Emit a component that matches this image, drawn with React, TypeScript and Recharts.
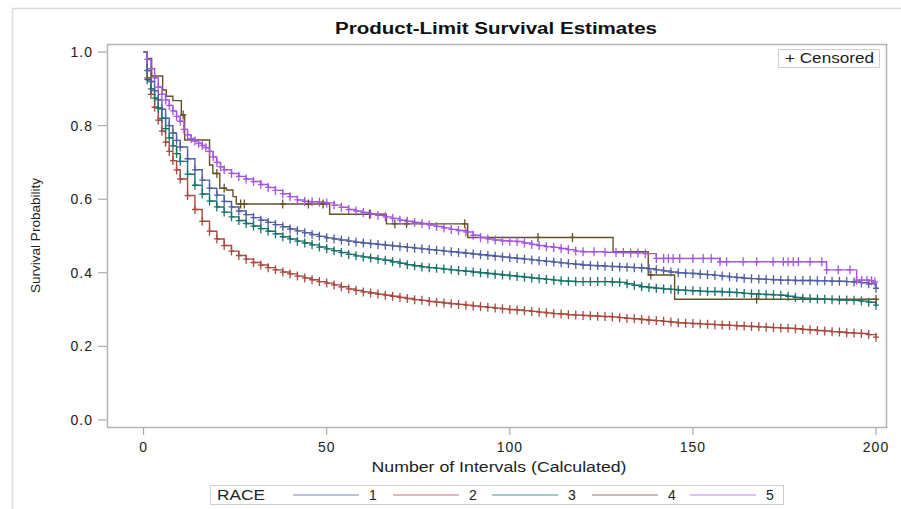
import { LineChart, Line, XAxis, YAxis } from 'recharts';

// time grid (intervals) shared by races 1-3
const intervals = [
  0, 1, 2, 3, 4, 5, 6, 7, 8, 9, 10,
  12, 14, 16, 18, 20, 22, 24, 26, 28, 30,
  32, 34, 36, 38, 40, 42, 44, 46, 48, 50,
  52, 54, 56, 58, 60, 62, 64, 66, 68, 70,
  72, 74, 76, 78, 80, 82, 84, 86, 88, 90,
  92, 94, 96, 98, 100, 102, 104, 106, 108, 110,
  112, 114, 116, 118, 120, 122, 124, 126, 128, 130,
  132, 134, 136, 138, 140, 142, 144, 146, 148, 150,
  152, 154, 156, 158, 160, 162, 164, 166, 168, 170,
  172, 174, 176, 178, 180, 182, 184, 186, 188, 190,
  192, 194, 196, 198, 200,
];

const race1 = [
  1.0, 0.95, 0.92, 0.895, 0.87, 0.845, 0.82, 0.8, 0.78, 0.76, 0.742,
  0.71, 0.68, 0.652, 0.63, 0.611, 0.594, 0.579, 0.568, 0.558, 0.55,
  0.543, 0.537, 0.531, 0.525, 0.519, 0.514, 0.509, 0.504, 0.499, 0.495,
  0.492, 0.489, 0.486, 0.483, 0.481, 0.479, 0.477, 0.475, 0.473, 0.471,
  0.469, 0.467, 0.465, 0.463, 0.461, 0.459, 0.457, 0.455, 0.453, 0.451,
  0.449, 0.447, 0.445, 0.443, 0.441, 0.439, 0.437, 0.435, 0.433, 0.431,
  0.429, 0.427, 0.425, 0.423, 0.421, 0.42, 0.419, 0.418, 0.417, 0.416,
  0.415, 0.414, 0.413, 0.411, 0.408, 0.405, 0.402, 0.4, 0.399, 0.398,
  0.396, 0.395, 0.393, 0.391, 0.389, 0.387, 0.385, 0.384, 0.383, 0.382,
  0.381, 0.38, 0.38, 0.379, 0.379, 0.379, 0.378, 0.378, 0.377, 0.377,
  0.376, 0.375, 0.373, 0.37, 0.358,
];

const race2 = [
  1.0, 0.93, 0.885, 0.85, 0.815, 0.785, 0.755, 0.73, 0.705, 0.68, 0.655,
  0.61, 0.572, 0.54, 0.513, 0.492, 0.474, 0.459, 0.447, 0.437, 0.428,
  0.421, 0.414, 0.408, 0.402, 0.397, 0.391, 0.386, 0.381, 0.376, 0.372,
  0.367, 0.362, 0.356, 0.352, 0.348, 0.345, 0.342, 0.339, 0.336, 0.333,
  0.33, 0.327, 0.325, 0.322, 0.32, 0.318, 0.316, 0.314, 0.312, 0.31,
  0.308, 0.306, 0.304, 0.302, 0.3, 0.299, 0.297, 0.295, 0.293, 0.291,
  0.289, 0.288, 0.286, 0.285, 0.284, 0.283, 0.282, 0.281, 0.28, 0.278,
  0.276, 0.275, 0.273, 0.271, 0.27, 0.268, 0.266, 0.264, 0.263, 0.262,
  0.261, 0.26, 0.259, 0.258, 0.257, 0.256, 0.255, 0.254, 0.253, 0.252,
  0.251, 0.25, 0.249, 0.248, 0.246, 0.245, 0.243, 0.242, 0.24, 0.239,
  0.237, 0.236, 0.235, 0.232, 0.225,
];

const race3 = [
  1.0, 0.925, 0.9, 0.875, 0.848, 0.82, 0.792, 0.767, 0.745, 0.724, 0.703,
  0.668, 0.638, 0.614, 0.595, 0.579, 0.565, 0.552, 0.542, 0.534, 0.527,
  0.52, 0.513, 0.506, 0.498, 0.492, 0.486, 0.481, 0.476, 0.47, 0.465,
  0.46, 0.455, 0.45, 0.446, 0.443, 0.44, 0.437, 0.434, 0.43, 0.426,
  0.422, 0.419, 0.416, 0.414, 0.412, 0.41, 0.408, 0.406, 0.404, 0.402,
  0.4, 0.398, 0.396, 0.394, 0.392, 0.39, 0.388, 0.386, 0.384, 0.382,
  0.38, 0.378, 0.377, 0.376, 0.376, 0.376, 0.376, 0.376, 0.375, 0.374,
  0.37, 0.366, 0.362, 0.36, 0.358, 0.356, 0.355, 0.353, 0.352, 0.351,
  0.35, 0.349, 0.349, 0.348, 0.347, 0.346, 0.344, 0.343, 0.342, 0.341,
  0.34, 0.339, 0.336, 0.333, 0.331, 0.33, 0.329, 0.328, 0.327, 0.326,
  0.326, 0.325, 0.323, 0.32, 0.312,
];

// race 4: few events, censor flags
const race4Times = [
  0, 1, 2.2, 5.2, 6.2, 8, 10.3, 10.8, 11.2, 18,
  18.9, 20, 20.8, 22, 22.6, 24.4, 25.3, 26.5, 27.5, 38,
  45, 49, 50.8, 61.7, 66.3, 68.6, 71.8, 87.7, 88.5, 107.7,
  117.1, 128.2, 137.8, 138.5, 145, 167.4, 200,
];
const race4Surv = [
  1, 0.983, 0.935, 0.897, 0.88, 0.868, 0.829, 0.829, 0.761, 0.693,
  0.67, 0.67, 0.63, 0.63, 0.625, 0.607, 0.587, 0.587, 0.587, 0.587,
  0.587, 0.587, 0.559, 0.559, 0.533, 0.533, 0.533, 0.533, 0.496, 0.496,
  0.496, 0.457, 0.394, 0.394, 0.328, 0.328, 0.328,
];
const race4Censored = [
  0, 0, 0, 0, 0, 0, 0, 1, 0, 0,
  0, 1, 0, 1, 0, 0, 0, 1, 1, 1,
  1, 1, 0, 1, 0, 1, 1, 1, 0, 1,
  1, 0, 0, 1, 0, 1, 1,
];

const race5Times = [
  0, 1, 2, 3, 4, 5, 6, 7, 8, 9, 10, 11, 12, 13, 14, 15, 16, 17, 18, 19,
  20, 21, 22, 24, 26, 28, 30, 32, 34, 36, 38, 40, 42, 44, 46, 48, 50,
  52, 54, 56, 58, 60, 62, 64, 66, 68, 70, 72, 74, 76, 78, 80, 82, 84, 86, 88,
  90, 92, 94, 96, 98, 100, 102, 104, 106, 108, 110, 112, 114, 116, 118, 120,
  123, 126, 129, 131, 133, 135, 137, 140, 142, 143.3, 144.6, 146.4, 150, 152.8,
  155, 157.4, 159.2, 163.7, 167.4, 171.9, 174.7, 176, 177.4, 178.8, 182, 185.2,
  186.5, 189.7, 192.9, 194.7, 196.1, 197.5, 198.8, 199.7,
];
const race5Surv = [
  1.0, 0.98, 0.955, 0.93, 0.905, 0.885, 0.87, 0.855, 0.84, 0.825, 0.812, 0.79, 0.775, 0.765, 0.758, 0.752, 0.746, 0.74, 0.73, 0.715,
  0.7, 0.688, 0.68, 0.67, 0.662, 0.655, 0.648, 0.64, 0.632, 0.624, 0.615, 0.607, 0.598, 0.594, 0.593, 0.592, 0.59,
  0.584, 0.578, 0.572, 0.568, 0.564, 0.56, 0.556, 0.552, 0.548, 0.543, 0.54, 0.537, 0.534, 0.53, 0.526, 0.522, 0.518, 0.515, 0.511,
  0.502, 0.496, 0.492, 0.489, 0.487, 0.486, 0.485, 0.481, 0.477, 0.474, 0.471, 0.469, 0.466, 0.463, 0.459, 0.457,
  0.457, 0.456, 0.455, 0.455, 0.454, 0.454, 0.452, 0.439, 0.439, 0.439, 0.439, 0.439, 0.439, 0.439,
  0.439, 0.43, 0.43, 0.43, 0.43, 0.43, 0.43, 0.43, 0.43, 0.43, 0.43, 0.43,
  0.408, 0.408, 0.408, 0.38, 0.38, 0.38, 0.378, 0.375,
];

const raceNames = ['1', '2', '3', '4', '5'];
const raceColors = ['#515fa0', '#a84a40', '#17736a', '#66502a', '#a557dc'];
const xTicks = [0, 50, 100, 150, 200];
const yTicks = [0, 0.2, 0.4, 0.6, 0.8, 1.0];

const FONT = '"Liberation Sans", Arial, sans-serif';

type Pt = { t: number; s: number; c: boolean };

const series: Pt[][] = [
  intervals.map((t, i) => ({ t, s: race1[i], c: i > 0 })),
  intervals.map((t, i) => ({ t, s: race2[i], c: i > 0 })),
  intervals.map((t, i) => ({ t, s: race3[i], c: i > 0 })),
  race4Times.map((t, i) => ({ t, s: race4Surv[i], c: race4Censored[i] === 1 })),
  race5Times.map((t, i) => ({ t, s: race5Surv[i], c: i > 0 })),
];

function crossDot(color: string) {
  return (p: any) => {
    const k = `d-${p.index}-${p.cx}`;
    if (!p.payload || !p.payload.c || p.cx == null || p.cy == null) return <g key={k} />;
    return (
      <path
        key={k}
        d={`M${p.cx - 3},${p.cy}h6M${p.cx},${p.cy - 4.5}v9`}
        stroke={color}
        strokeWidth={1.3}
        fill="none"
      />
    );
  };
}

const legendStarts = [293, 393, 492, 592, 690];

export default function App() {
  return (
    <div style={{ position: 'fixed', left: 0, top: 0, width: 901, height: 509, background: '#fff' }}>
      <LineChart
        width={901}
        height={509}
        margin={{ top: 44, right: 14, bottom: 51, left: 0 }}
      >
        <XAxis
          dataKey="t"
          type="number"
          domain={[-10, 203]}
          ticks={xTicks}
          interval={0}
          allowDataOverflow
          axisLine={false}
          tickLine={{ stroke: '#9a9a9a' }}
          tickSize={7}
          tickMargin={7}
          height={30}
          tick={{ fontSize: 14, fill: '#222', fontFamily: FONT, letterSpacing: 1 }}
        />
        <YAxis
          type="number"
          domain={[-0.022, 1.022]}
          ticks={yTicks}
          interval={0}
          allowDataOverflow
          width={107}
          axisLine={false}
          tickLine={{ stroke: '#9a9a9a' }}
          tickSize={9}
          tickMargin={5}
          tickFormatter={(v: number) => v.toFixed(1)}
          tick={{ fontSize: 14, fill: '#222', fontFamily: FONT, letterSpacing: 1 }}
        />
        {series.map((d, i) => (
          <Line
            key={raceNames[i]}
            data={d}
            dataKey="s"
            name={raceNames[i]}
            type="stepAfter"
            stroke={raceColors[i]}
            strokeWidth={1.4}
            dot={crossDot(raceColors[i])}
            activeDot={false}
            isAnimationActive={false}
          />
        ))}
      </LineChart>
      <svg
        width={901}
        height={509}
        style={{ position: 'absolute', left: 0, top: 0, pointerEvents: 'none' }}
        fontFamily={FONT}
      >
        <path d="M12.5,509 V8.5 H901" stroke="#dcdcdc" strokeWidth={1.5} fill="none" />
        <rect x={107.5} y={44.5} width={779} height={383} stroke="#b5b5b5" strokeWidth={1.5} fill="none" />
        <text x={496} y={34} textAnchor="middle" fontWeight="bold" fontSize={16} fill="#111"
          textLength={322} lengthAdjust="spacingAndGlyphs">
          Product-Limit Survival Estimates
        </text>
        <rect x={778.5} y={49.5} width={101} height={18} stroke="#cfcfcf" fill="#fff" />
        <text x={785} y={63} fontSize={14} fill="#222" textLength={89} lengthAdjust="spacingAndGlyphs">
          + Censored
        </text>
        <text x={499} y={472} textAnchor="middle" fontSize={14} fill="#222"
          textLength={255} lengthAdjust="spacingAndGlyphs">
          Number of Intervals (Calculated)
        </text>
        <text x={40} y={235.5} textAnchor="middle" fontSize={13.5} fill="#222"
          transform="rotate(-90, 40, 235.5)" textLength={115} lengthAdjust="spacingAndGlyphs">
          Survival Probability
        </text>
        <rect x={210.5} y={485.5} width={573} height={19} stroke="#cfcfcf" fill="#fff" />
        <text x={217} y={500} fontSize={14} fill="#222" textLength={48} lengthAdjust="spacingAndGlyphs">
          RACE
        </text>
        {raceNames.map((n, i) => (
          <g key={n}>
            <line x1={legendStarts[i]} x2={legendStarts[i] + 66} y1={495} y2={495}
              stroke={raceColors[i]} strokeOpacity={0.75} strokeWidth={1.2} />
            <text x={legendStarts[i] + 80} y={500} textAnchor="middle" fontSize={14} fill="#222">
              {n}
            </text>
          </g>
        ))}
      </svg>
    </div>
  );
}
